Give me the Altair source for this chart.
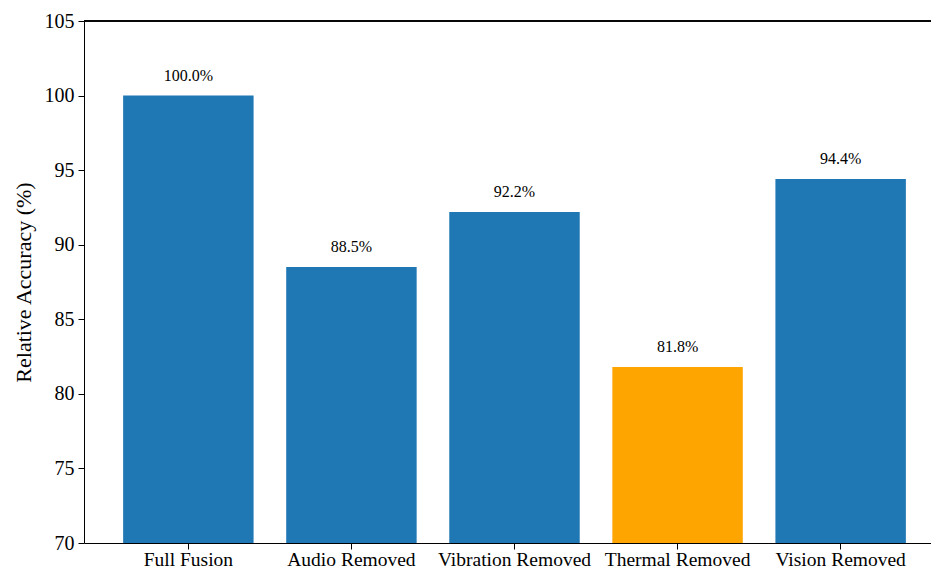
import altair as alt
import pandas as pd

categories = ["Full Fusion", "Audio Removed", "Vibration Removed", "Thermal Removed", "Vision Removed"]
values = [100.0, 88.5, 92.2, 81.8, 94.4]
colors = ["#1f77b4", "#1f77b4", "#1f77b4", "#FFA500", "#1f77b4"]
y_ticks = [70, 75, 80, 85, 90, 95, 100, 105]

df = pd.DataFrame({
    "cat": categories,
    "val": values,
    "base": [70] * len(values),
    "color": colors,
    "label": [f"{v:.1f}%" for v in values],
})

FONT = "Liberation Serif"
FULL_W = 861  # full band range (extends past the visible edge, as in the reference crop)

x = alt.X("cat:N", sort=categories, title=None,
          scale=alt.Scale(paddingInner=0.2, paddingOuter=0.24, range=[0, FULL_W]),
          axis=alt.Axis(labelAngle=0, labelFont=FONT, labelFontSize=19.5, labelColor="black",
                        domainColor="black", tickColor="black", tickSize=6, labelPadding=1))
y = alt.Y("val:Q", title="Relative Accuracy (%)",
          scale=alt.Scale(domain=[70, 105], zero=False, nice=False),
          axis=alt.Axis(values=y_ticks, grid=False,
                        labelFont=FONT, labelFontSize=20, labelColor="black",
                        titleFont=FONT, titleFontSize=22, titleFontWeight="normal", titleColor="black",
                        domainColor="black", tickColor="black", tickSize=6, labelPadding=4, titlePadding=9))

bars = alt.Chart(df).mark_bar(clip=True).encode(
    x=x, y=y, y2="base:Q",
    color=alt.Color("color:N", scale=None),
)
text = alt.Chart(df).mark_text(font=FONT, fontSize=16, dy=-20, color="black").encode(
    x=alt.X("cat:N", sort=categories), y="val:Q", text="label:N"
)
top_spine = alt.Chart(df).mark_rule(color="black", strokeWidth=1).encode(
    y=alt.datum(105), x=alt.value(0), x2=alt.value(FULL_W)
)

chart = (bars + text + top_spine).properties(
    width=847, height=522,
    autosize=alt.AutoSizeParams(type="none"),
    padding={"left": 76, "top": 13, "right": 0, "bottom": 26},
).configure_view(stroke=None)

chart.save("out.html", embed_options={"renderer": "svg", "actions": False})
